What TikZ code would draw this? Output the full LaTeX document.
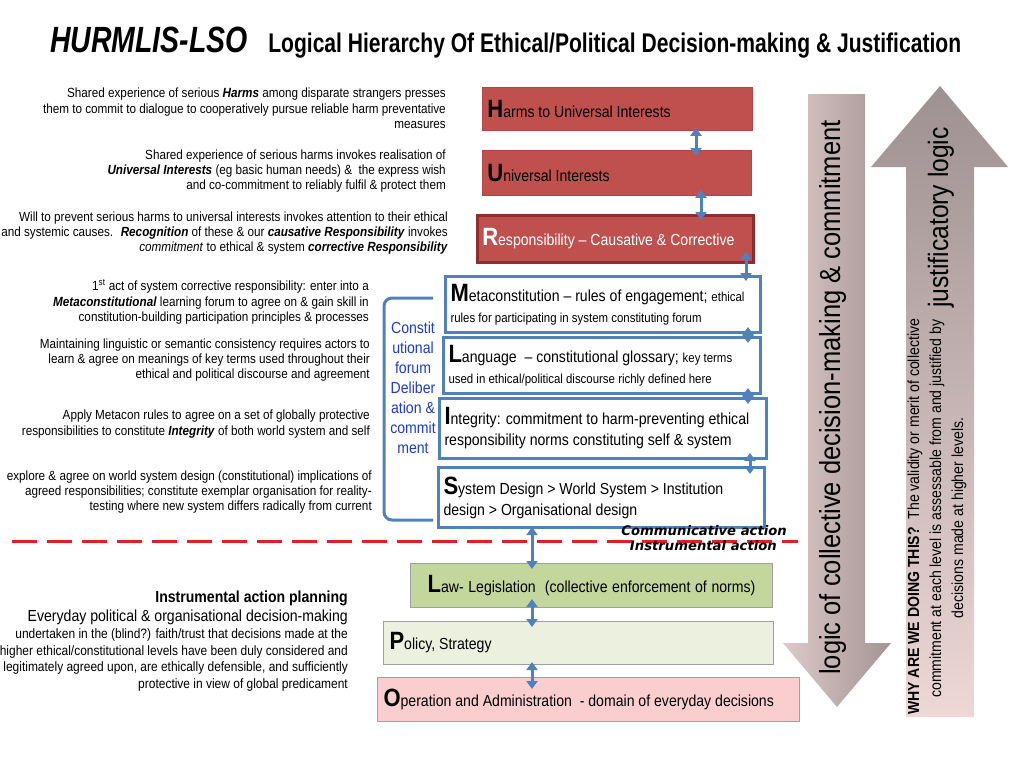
\documentclass[tikz,border=0pt]{standalone}
\usepackage{fontspec}
\setmainfont{Liberation Sans}[FakeStretch=0.88]
\newfontfamily\titlefont{Liberation Sans}[FakeStretch=0.78]
\newfontfamily\commfont{DejaVu Sans}
\usetikzlibrary{positioning,arrows.meta}

\definecolor{boxred}{RGB}{192,80,77}
\definecolor{boxredline}{RGB}{178,70,68}
\definecolor{respline}{RGB}{140,48,46}
\definecolor{lblue}{RGB}{79,129,189}
\definecolor{lawgreen}{RGB}{195,214,155}
\definecolor{polgreen}{RGB}{235,241,222}
\definecolor{operpink}{RGB}{250,206,206}
\definecolor{boxgray}{RGB}{160,160,160}
\definecolor{forumblue}{RGB}{30,60,205}
\definecolor{dashred}{RGB}{228,30,36}
\definecolor{downl}{RGB}{221,201,201}
\definecolor{downr}{RGB}{164,148,148}
\definecolor{upt}{RGB}{158,145,145}
\definecolor{upb}{RGB}{237,215,215}

\newcommand{\px}[2]{\fontsize{#1}{#2}\selectfont}
\newcommand{\lvlinit}[1]{{\px{25}{25}\bfseries #1}}

\begin{document}
\begin{tikzpicture}[x=1pt, y=-1pt,
    level/.style={draw, rectangle, anchor=north west, inner xsep=5pt, inner ysep=0pt, align=left, font=\px{16}{21},
      execute at begin node={\spaceskip=0pt\xspaceskip=0pt}},
    redlevel/.style={level, fill=boxred, draw=boxredline, line width=0.8pt},
    bluelevel/.style={level, fill=white, draw=lblue, line width=3pt},
    lowlevel/.style={level, draw=boxgray, line width=1pt},
    note/.style={align=right, inner sep=0pt, font=\px{13.3}{15.4}},
    dbl/.style={{Triangle[length=8pt,width=11pt]}-{Triangle[length=8pt,width=11pt]}, line width=3pt, draw=lblue, shorten <=-6pt, shorten >=-6pt},
    divider/.style={draw=dashred, line width=3pt, dash pattern=on 25pt off 10pt},
    bracket/.style={draw=lblue, line width=3pt, rounded corners=8pt},
    arrowtext/.style={rotate=90, inner sep=0pt, font=\px{29}{30}},
    whytext/.style={rotate=90, inner sep=0pt, font=\px{16}{18}}
  ]
  \useasboundingbox (0,0) rectangle (1028,772);

  % title
  \node[anchor=base west, inner sep=0pt, font=\titlefont\px{36.5}{36}\bfseries\itshape] (brand) at (50,52) {HURMLIS-LSO};
  \node[base right=20pt of brand, inner sep=0pt, font=\titlefont\px{27}{27}\bfseries] (heading) {Logical Hierarchy Of Ethical/Political Decision-making \& Justification};

  % big arrows on the right
  \path[left color=downl, right color=downr] (808,94) -- (865,94) -- (865,643) -- (891,643) -- (837,707) -- (783,643) -- (808,643) -- cycle;
  \path[top color=upt, bottom color=upb] (940,86) -- (1008,167) -- (974,167) -- (974,717) -- (906,717) -- (906,167) -- (871,167) -- cycle;
  \node[arrowtext, anchor=base east] (logicdown) at (840,120) {logic of collective decision-making \& commitment};
  \node[arrowtext, anchor=base east, font=\px{28}{30}] (justif) at (948,127) {justificatory logic};
  \node[whytext, anchor=base west] (why1) at (919,715) {\textbf{WHY ARE WE DOING THIS?}~ The validity or merit of collective};
  \node[whytext, anchor=base west] (why2) at (941,698) {commitment at each level is assessable from and justified by};
  \node[whytext, anchor=base] (why3) at (963,518) {decisions made at higher levels.};

  % ethical levels
  \node[redlevel, minimum width=270pt, minimum height=43pt, text width=260pt] (harm) at (482,87) {\lvlinit{H}arms to Universal Interests};
  \node[redlevel, minimum width=269pt, minimum height=45pt, text width=259pt] (univ) at (482,150) {\lvlinit{U}niversal Interests};
  \node[redlevel, draw=respline, line width=2.5pt, text=white, minimum width=276pt, minimum height=47pt, text width=266pt] (resp) at (476,214) {\lvlinit{R}esponsibility – Causative \& Corrective};

  % constitutional forum levels
  \node[bluelevel, minimum width=315pt, minimum height=56pt, text width=305pt] (meta) at (444,275)
    {\lvlinit{M}etaconstitution – rules of engagement; {\px{13}{18}ethical}\\ \px{13}{18}rules for participating in system constituting forum};
  \node[bluelevel, minimum width=317pt, minimum height=56pt, text width=307pt] (lang) at (442,336)
    {\lvlinit{L}anguage~ – constitutional glossary; {\px{13}{18}key terms}\\ \px{13}{18}used in ethical/political discourse richly defined here};
  \node[bluelevel, minimum width=327pt, minimum height=60pt, text width=317pt] (integ) at (438,397)
    {\lvlinit{I}ntegrity: commitment to harm-preventing ethical\\ responsibility norms constituting self \& system};
  \node[bluelevel, minimum width=326pt, minimum height=60pt, text width=316pt] (sysd) at (437,466)
    {\lvlinit{S}ystem Design > World System > Institution\\ design > Organisational design};

  % instrumental levels
  \node[lowlevel, fill=lawgreen, align=center, minimum width=362pt, minimum height=44pt, text width=352pt] (law) at (410,563)
    {\lvlinit{L}aw- Legislation~ (collective enforcement of norms)};
  \node[lowlevel, fill=polgreen, inner xsep=6pt, minimum width=390pt, minimum height=43pt, text width=378pt] (policy) at (383,621)
    {\lvlinit{P}olicy, Strategy};
  \node[lowlevel, fill=operpink, inner xsep=6pt, minimum width=422pt, minimum height=44pt, text width=410pt] (oper) at (377,677)
    {\lvlinit{O}peration and Administration~ - domain of everyday decisions};

  % forum bracket
  \draw[bracket] (433,298) -- (384,298) -- (384,520) -- (433,520);
  \node[align=center, inner sep=0pt, font=\px{16}{20}, text=forumblue] (forum) at (413,388)
    {Constit\\utional\\forum\\Deliber\\ation \&\\commit\\ment};

  % communicative / instrumental divide
  \coordinate (dashL) at (12,541);
  \coordinate (dashR) at (798,541);
  \draw[divider] (dashL) -- (dashR);
  \node[anchor=base east, inner sep=0pt, font=\commfont\px{13.2}{14}\bfseries\itshape] (comm) at (787,535) {Communicative action};
  \node[anchor=base east, inner sep=0pt, font=\commfont\px{13.2}{14}\bfseries\itshape] (instr) at (777,550) {Instrumental action};

  % left notes
  \node[note, anchor=east] (n1) at (446,108.5)
    {Shared experience of serious \textbf{\textit{Harms}} among disparate strangers presses\\
     them to commit to dialogue to cooperatively pursue reliable harm preventative\\ measures};
  \node[note, anchor=east] (n2) at (446,171)
    {Shared experience of serious harms invokes realisation of\\
     \textbf{\textit{Universal Interests}} (eg basic human needs) \&~ the express wish\\
     and co-commitment to reliably fulfil \& protect them};
  \node[note, anchor=east] (n3) at (448,233)
    {Will to prevent serious harms to universal interests invokes attention to their ethical\\
     and systemic causes.~ \textbf{\textit{Recognition}} of these \& our \textbf{\textit{causative Responsibility}} invokes\\
     \textit{commitment} to ethical \& system \textbf{\textit{corrective Responsibility}}};
  \node[note, anchor=east] (n4) at (369,302)
    {1\textsuperscript{st} act of system corrective responsibility: enter into a\\
     \textbf{\textit{Metaconstitutional}} learning forum to agree on \& gain skill in\\
     constitution-building participation principles \& processes};
  \node[note, anchor=east] (n5) at (370,360)
    {Maintaining linguistic or semantic consistency requires actors to\\
     learn \& agree on meanings of key terms used throughout their\\
     ethical and political discourse and agreement};
  \node[note, anchor=east] (n6) at (370,424)
    {Apply Metacon rules to agree on a set of globally protective\\
     responsibilities to constitute \textbf{\textit{Integrity}} of both world system and self};
  \node[note, anchor=east] (n7) at (372,492)
    {explore \& agree on world system design (constitutional) implications of\\
     agreed responsibilities; constitute exemplar organisation for reality-\\
     testing where new system differs radically from current};
  \node[note, anchor=east, font=\px{13.6}{16.5}] (n8) at (348,641)
    {{\px{16}{21}\textbf{Instrumental action planning}}\\[2pt]
     {\px{16}{21}Everyday political \& organisational decision-making}\\[1pt]
     undertaken in the (blind?) faith/trust that decisions made at the\\
     higher ethical/constitutional levels have been duly considered and\\
     legitimately agreed upon, are ethically defensible, and sufficiently\\
     protective in view of global predicament};

  % links between levels
  \coordinate (axHU) at (696,0);
  \coordinate (axUR) at (701,0);
  \coordinate (axRM) at (746,0);
  \coordinate (axML) at (748,0);
  \coordinate (axIS) at (750,0);
  \coordinate (axlow) at (532,0);
  \draw[dbl, shorten <=-3pt] (harm.south -| axHU) -- (univ.north -| axHU);
  \draw[dbl] (univ.south -| axUR) -- (resp.north -| axUR);
  \draw[dbl, shorten <=-12pt] (resp.south -| axRM) -- (meta.north -| axRM);
  \draw[dbl, shorten <=-7pt, shorten >=-7pt] (meta.south -| axML) -- (lang.north -| axML);
  \draw[dbl, shorten <=-7pt, shorten >=-7pt] (lang.south -| axML) -- (integ.north -| axML);
  \draw[dbl, shorten <=-7pt, shorten >=-8pt] (integ.south -| axIS) -- (sysd.north -| axIS);
  \draw[dbl, shorten <=-2pt] (sysd.south -| axlow) -- (law.north -| axlow);
  \draw[dbl, shorten <=-9pt] (law.south -| axlow) -- (policy.north -| axlow);
  \draw[dbl, shorten <=-3pt, shorten >=-12pt] (policy.south -| axlow) -- (oper.north -| axlow);
\end{tikzpicture}
\end{document}
